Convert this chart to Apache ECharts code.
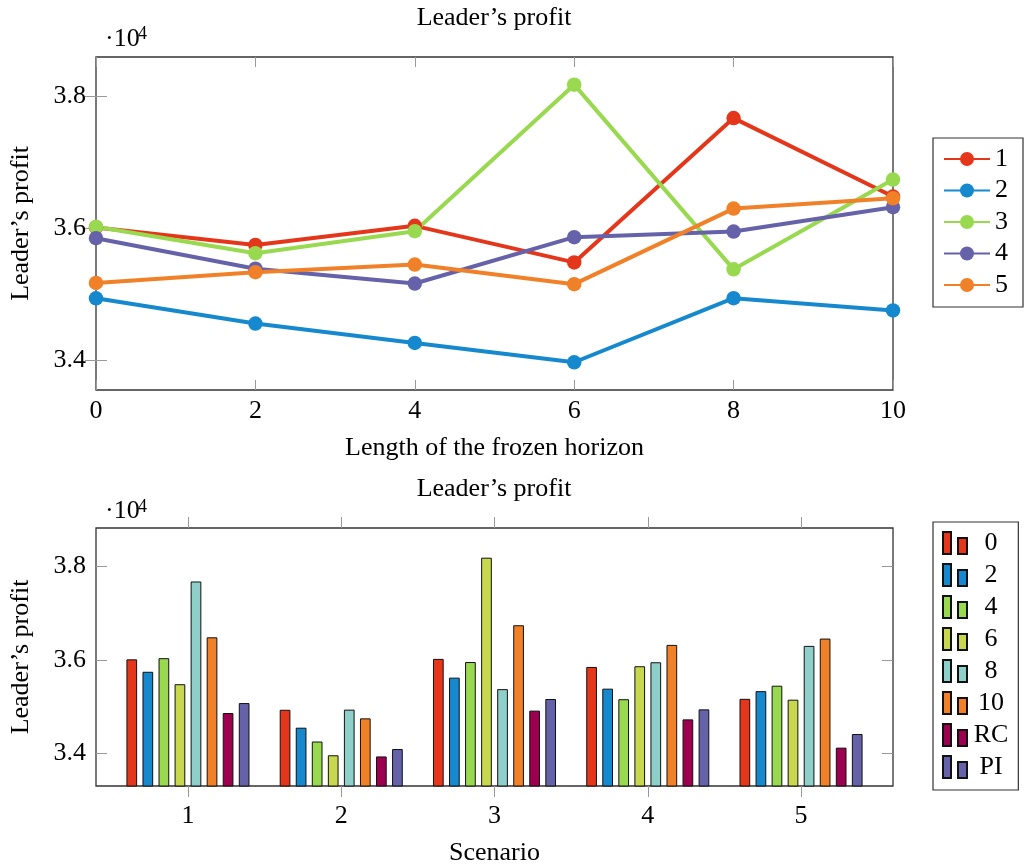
<!DOCTYPE html>
<html><head><meta charset="utf-8">
<script src="https://cdn.jsdelivr.net/npm/echarts@6/dist/echarts.min.js"></script>
<style>html,body{margin:0;padding:0;background:#fff}#c{width:1029px;height:867px}</style>
</head><body><div id="c"></div><script>
// ---- data (values in units; axis shows them ·10^4) ----
const horizons = [0, 2, 4, 6, 8, 10];
const scenarioNames = ['1', '2', '3', '4', '5'];
const scenarioTicks = [1, 2, 3, 4, 5];
const yTicks = [34000, 36000, 38000];
const scenario1 = [36010, 35745, 36035, 35480, 37670, 36480];
const scenario2 = [34935, 34553, 34258, 33965, 34938, 34752];
const scenario3 = [36020, 35620, 35953, 38177, 35375, 36737];
const scenario4 = [35848, 35385, 35160, 35863, 35948, 36318];
const scenario5 = [35168, 35332, 35448, 35150, 36297, 36453];
const rcValues = [34866, 33940, 34917, 34730, 34128];
const piValues = [35078, 34098, 35164, 34944, 34418];
const barLabels = ['0', '2', '4', '6', '8', '10', 'RC', 'PI'];

// ---- styles ----
const FONT = 'Liberation Serif';
const txt = { fontFamily: FONT, fontSize: 26, color: '#000' };
const lineColors = ['#E4361A', '#1689CE', '#98D94F', '#6562AA', '#F08128'];
const barColors = ['#E4361A', '#1689CE', '#98D94F', '#C7D84F', '#8ECFCA', '#F08128', '#9C004E', '#6562AA'];
const tickStyle = { color: '#999', width: 1 };
const fmtY = v => (v / 1e4).toFixed(1);

const scenarios = [scenario1, scenario2, scenario3, scenario4, scenario5];

const series = [];
scenarios.forEach((s, k) => {
  series.push({
    type: 'line', name: scenarioNames[k], xAxisIndex: 0, yAxisIndex: 0,
    data: horizons.map((h, i) => [h, s[i]]),
    symbol: 'circle', symbolSize: 14.5, showSymbol: true,
    lineStyle: { width: 4, color: lineColors[k] },
    itemStyle: { color: lineColors[k] },
    emphasis: { disabled: true }, animation: false, clip: false
  });
});
const barSeriesValues = horizons.map((h, i) => scenarios.map(s => s[i]));
barSeriesValues.push(rcValues, piValues);
const barNames = barLabels.map(l => 'b' + l);
barSeriesValues.forEach((vals, j) => {
  series.push({
    type: 'bar', name: barNames[j], xAxisIndex: 2, yAxisIndex: 2,
    data: vals.map((v, i) => [scenarioTicks[i], v]),
    barWidth: 10.7, barGap: '50%',
    itemStyle: { color: barColors[j], borderColor: '#111', borderWidth: 1 },
    emphasis: { disabled: true }, animation: false
  });
});

const baseX = (gi, pos, extra) => Object.assign({
  gridIndex: gi, type: 'value', position: pos,
  axisLine: { show: false }, splitLine: { show: false },
  axisTick: { lineStyle: tickStyle }, axisLabel: { show: false }
}, extra);

const option = {
  animation: false,
  grid: [
    { left: 96, top: 57, width: 797, height: 333, show: true, borderColor: '#333', borderWidth: 1.3 },
    { left: 96, top: 528, width: 797, height: 258, show: true, borderColor: '#333', borderWidth: 1.3 }
  ],
  xAxis: [
    baseX(0, 'bottom', { min: 0, max: 10, interval: 2,
      axisTick: { inside: true, length: 10, lineStyle: tickStyle },
      axisLabel: Object.assign({ show: true, margin: 8 }, txt),
      name: 'Length of the frozen horizon', nameLocation: 'middle', nameGap: 45, nameTextStyle: txt }),
    baseX(0, 'top', { min: 0, max: 10, interval: 2,
      axisTick: { inside: true, length: 10, lineStyle: tickStyle } }),
    baseX(1, 'bottom', { min: 0.4, max: 5.6,
      axisTick: { inside: false, length: 11, lineStyle: tickStyle, customValues: scenarioTicks },
      axisLabel: Object.assign({ show: true, margin: 17, customValues: scenarioTicks }, txt),
      name: 'Scenario', nameLocation: 'middle', nameGap: 54, nameTextStyle: txt }),
    baseX(1, 'top', { min: 0.4, max: 5.6,
      axisTick: { inside: false, length: 11, lineStyle: tickStyle, customValues: scenarioTicks } })
  ],
  yAxis: [
    baseX(0, 'left', { min: 33544, max: 38597,
      axisTick: { inside: true, length: 11, lineStyle: tickStyle, customValues: yTicks },
      axisLabel: Object.assign({ show: true, margin: 10, customValues: yTicks, formatter: fmtY }, txt),
      name: 'Leader’s profit', nameLocation: 'middle', nameGap: 62, nameTextStyle: txt }),
    baseX(0, 'right', { min: 33544, max: 38597,
      axisTick: { inside: true, length: 11, lineStyle: tickStyle, customValues: yTicks } }),
    baseX(1, 'left', { min: 33310, max: 38810,
      axisTick: { inside: true, length: 11, lineStyle: tickStyle, customValues: yTicks },
      axisLabel: Object.assign({ show: true, margin: 10, customValues: yTicks, formatter: fmtY }, txt),
      name: 'Leader’s profit', nameLocation: 'middle', nameGap: 62, nameTextStyle: txt }),
    baseX(1, 'right', { min: 33310, max: 38810,
      axisTick: { inside: true, length: 11, lineStyle: tickStyle, customValues: yTicks } })
  ],
  legend: [
    { data: scenarioNames, orient: 'vertical', left: 933, top: 138,
      itemWidth: 46, itemHeight: 17.5, itemGap: 5.5, padding: [8, 15, 9, 10],
      borderColor: '#333', borderWidth: 1.2, textStyle: txt, selectedMode: false },
    { data: barNames, orient: 'vertical', left: 933, top: 522,
      itemWidth: 24, itemHeight: 22, itemGap: 6, padding: [8, 10, 10, 9],
      icon: 'path://M0,0L8,0L8,22L0,22Z M15,6L24,6L24,22L15,22Z',
      borderColor: '#333', borderWidth: 1.2, selectedMode: false,
      formatter: n => '{c|' + barLabels[barNames.indexOf(n)] + '}',
      textStyle: Object.assign({ rich: { c: Object.assign({ width: 38, align: 'center' }, txt) } }, txt) }
  ],
  graphic: [
    { type: 'text', x: 494, y: 18, style: { text: 'Leader’s profit', align: 'center', verticalAlign: 'middle', font: '26px ' + FONT, fill: '#000' } },
    { type: 'text', x: 494, y: 489, style: { text: 'Leader’s profit', align: 'center', verticalAlign: 'middle', font: '26px ' + FONT, fill: '#000' } },
    { type: 'text', x: 105, y: 39, style: { text: '·10', align: 'left', verticalAlign: 'middle', font: '26px ' + FONT, fill: '#000' } },
    { type: 'text', x: 138, y: 34.5, style: { text: '4', align: 'left', verticalAlign: 'middle', font: '18px ' + FONT, fill: '#000' } },
    { type: 'text', x: 105, y: 511.6, style: { text: '·10', align: 'left', verticalAlign: 'middle', font: '26px ' + FONT, fill: '#000' } },
    { type: 'text', x: 138, y: 507.1, style: { text: '4', align: 'left', verticalAlign: 'middle', font: '18px ' + FONT, fill: '#000' } }
  ],
  series: series
};
const chart = echarts.init(document.getElementById('c'), null, { renderer: 'canvas' });
chart.setOption(option);
</script></body></html>
